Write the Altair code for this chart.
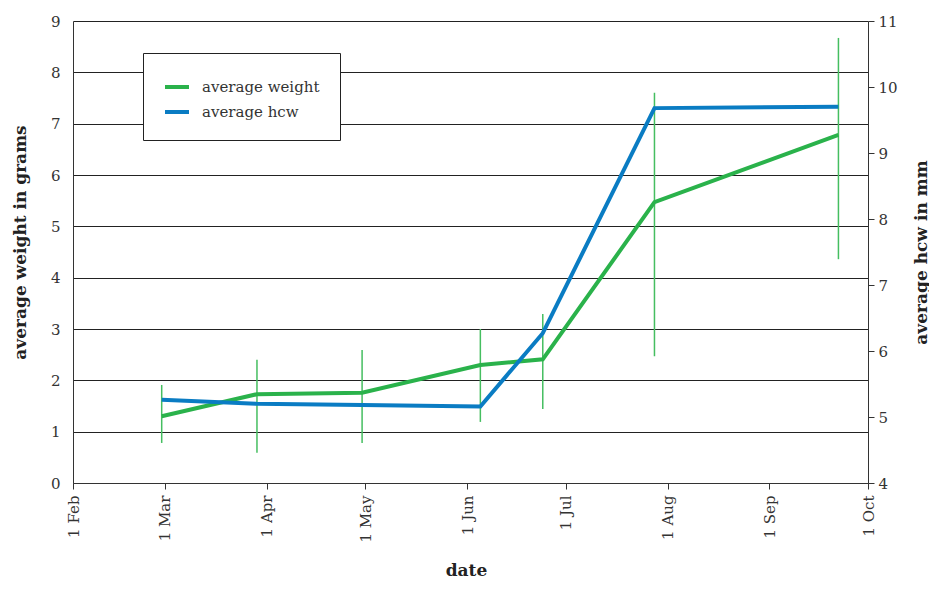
import altair as alt
import pandas as pd

# ---- data ----
dates = ["2011-02-28", "2011-03-29", "2011-04-30", "2011-06-05",
         "2011-06-24", "2011-07-28", "2011-09-22"]
weight = [1.30, 1.73, 1.76, 2.30, 2.41, 5.47, 6.78]
weight_low = [0.78, 0.59, 0.78, 1.19, 1.44, 2.47, 4.36]
weight_high = [1.91, 2.40, 2.59, 3.00, 3.29, 7.60, 8.67]
hcw = [5.26, 5.20, 5.18, 5.16, 6.27, 9.68, 9.70]

series_names = ["average weight", "average hcw"]
weight_ticks = list(range(0, 10))
hcw_ticks = list(range(4, 12))
month_ticks = list(range(2, 11))

df = pd.DataFrame({
    "date": dates,
    "weight": weight,
    "low": weight_low,
    "high": weight_high,
    "hcw": hcw,
})

GREEN = "#2ab24b"
BLUE = "#0a7cc3"
ERR_GREEN = "#45be60"
FONT = "DejaVu Serif"

x_enc = alt.X(
    "date:T",
    title="date",
    scale=alt.Scale(
        type="utc",
        domain=[alt.DateTime(year=2011, month=2, date=1, utc=True),
                alt.DateTime(year=2011, month=10, date=1, utc=True)],
    ),
    axis=alt.Axis(
        values=[alt.DateTime(year=2011, month=m, date=1, utc=True) for m in month_ticks],
        format="%-d %b",
        labelAngle=270,
        labelPadding=6,
        tickSize=6,
        grid=False,
        titleX=393,
        titleY=92,
        titleAlign="center",
        titleBaseline="alphabetic",
    ),
)

left_axis = alt.Axis(
    title="average weight in grams",
    values=weight_ticks,
    ticks=False,
    labelPadding=13,
    grid=True,
    gridColor="#222222",
    gridWidth=1,
    titleX=-53,
    titleY=221,
    titleAngle=270,
    titleAlign="center",
    titleBaseline="middle",
)

right_axis = alt.Axis(
    title="average hcw in mm",
    orient="right",
    values=hcw_ticks,
    grid=False,
    tickSize=6,
    labelPadding=4,
    titleX=53,
    titleY=231,
    titleAngle=270,
    titleAlign="center",
    titleBaseline="middle",
)

color_scale = alt.Scale(domain=series_names, range=[GREEN, BLUE])
legend = alt.Legend(
    title=None,
    orient="none",
    legendX=70,
    legendY=32,
    direction="vertical",
    fillColor="white",
    strokeColor="#222222",
    padding=20,
    rowPadding=3,
    symbolType="stroke",
    symbolStrokeWidth=4,
    symbolSize=576,
    labelFont=FONT,
    labelFontSize=15,
    labelColor="#333333",
    labelOffset=11,
)

base = alt.Chart(df)

err = base.mark_rule(color=ERR_GREEN, strokeWidth=1.5).encode(
    x=x_enc,
    y=alt.Y("low:Q", scale=alt.Scale(domain=[0, 9]), axis=left_axis),
    y2="high:Q",
)

w_line = base.transform_calculate(series=f"'{series_names[0]}'").mark_line(strokeWidth=4).encode(
    x=x_enc,
    y=alt.Y("weight:Q", scale=alt.Scale(domain=[0, 9]), axis=left_axis),
    color=alt.Color("series:N", scale=color_scale, legend=legend),
)

h_line = base.transform_calculate(series=f"'{series_names[1]}'").mark_line(strokeWidth=4).encode(
    x=x_enc,
    y=alt.Y("hcw:Q", scale=alt.Scale(domain=[4, 11]), axis=right_axis),
    color=alt.Color("series:N", scale=color_scale, legend=legend),
)

chart = (
    alt.layer(alt.layer(err, w_line), h_line)
    .resolve_scale(y="independent")
    .properties(
        width=795,
        height=462,
        padding={"left": 65, "top": 13, "right": 61, "bottom": 100},
        autosize="none",
    )
    .configure_view(stroke=None)
    .configure_axis(
        labelFont=FONT,
        labelFontSize=15,
        labelColor="#333333",
        titleFont=FONT,
        titleFontSize=17,
        titleFontWeight="bold",
        titleColor="#222222",
        domainColor="#333333",
        tickColor="#333333",
    )
)

chart.save("out.html", embed_options={"renderer": "svg", "actions": False})
